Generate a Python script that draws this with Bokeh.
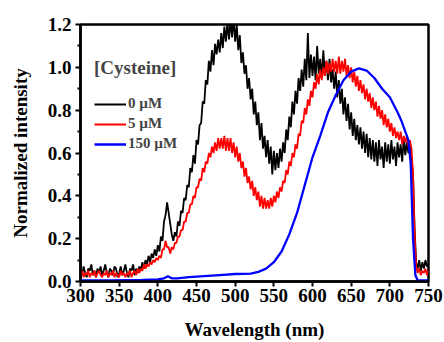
from bokeh.plotting import figure
from bokeh.models import Legend, LegendItem, FixedTicker, NumeralTickFormatter
from bokeh.embed import file_html
from bokeh.resources import INLINE

# Wavelength grid for the noisy spectra (nm)
wl = list(range(300, 751, 2))

# 0 uM cysteine
black_y = [
    0.05, 0.03, 0.07, 0.04, 0.02, 0.06, 0.05, 0.08, 0.03, 0.05,
    0.02, 0.06, 0.04, 0.07, 0.03, 0.05, 0.08, 0.04, 0.02, 0.06,
    0.05, 0.03, 0.07, 0.06, 0.02, 0.04, 0.07, 0.03, 0.05, 0.08,
    0.04, 0.02, 0.06, 0.05, 0.08, 0.03, 0.06, 0.04, 0.07, 0.05,
    0.09, 0.06, 0.10, 0.08, 0.12, 0.09, 0.13, 0.11, 0.15, 0.12,
    0.17, 0.14, 0.21, 0.19, 0.28, 0.31, 0.37, 0.32, 0.27, 0.22,
    0.19, 0.23, 0.21, 0.28, 0.26, 0.33, 0.32, 0.39, 0.38, 0.45,
    0.44, 0.53, 0.51, 0.59, 0.55, 0.66, 0.64, 0.73, 0.74, 0.84,
    0.83, 0.94, 0.92, 1.03, 0.98, 1.08, 1.01, 1.11, 1.06, 1.13,
    1.07, 1.16, 1.09, 1.19, 1.12, 1.21, 1.13, 1.22, 1.14, 1.23,
    1.12, 1.20, 1.08, 1.15, 1.02, 1.07, 0.97, 1.01, 0.90, 0.95,
    0.85, 0.90, 0.78, 0.84, 0.73, 0.79, 0.66, 0.74, 0.62, 0.68,
    0.58, 0.66, 0.55, 0.63, 0.50, 0.61, 0.52, 0.60, 0.53, 0.62,
    0.56, 0.65, 0.60, 0.71, 0.66, 0.77, 0.72, 0.84, 0.78, 0.89,
    0.83, 0.95, 0.89, 0.99, 0.91, 1.04, 0.94, 1.16, 0.95, 1.06,
    0.96, 1.05, 0.94, 1.10, 0.97, 1.04, 0.95, 1.08, 0.96, 1.03,
    0.94, 1.04, 0.93, 0.99, 0.90, 0.98, 0.86, 0.94, 0.83, 0.90,
    0.78, 0.86, 0.75, 0.83, 0.71, 0.79, 0.68, 0.76, 0.66, 0.73,
    0.64, 0.72, 0.62, 0.70, 0.60, 0.69, 0.58, 0.67, 0.57, 0.66,
    0.56, 0.65, 0.54, 0.66, 0.57, 0.63, 0.53, 0.65, 0.56, 0.64,
    0.55, 0.66, 0.57, 0.63, 0.54, 0.65, 0.58, 0.64, 0.56, 0.67,
    0.59, 0.65, 0.60, 0.63, 0.58, 0.50, 0.25, 0.09, 0.06, 0.10,
    0.05, 0.09, 0.06, 0.10, 0.07, 0.08]

# 5 uM cysteine
red_y = [
    0.03, 0.05, 0.02, 0.04, 0.03, 0.05, 0.02, 0.04, 0.03, 0.05,
    0.02, 0.04, 0.05, 0.03, 0.02, 0.04, 0.03, 0.05, 0.02, 0.04,
    0.03, 0.05, 0.02, 0.04, 0.03, 0.02, 0.05, 0.03, 0.04, 0.02,
    0.04, 0.03, 0.05, 0.02, 0.04, 0.05, 0.03, 0.06, 0.04, 0.06,
    0.05, 0.08, 0.06, 0.08, 0.07, 0.09, 0.08, 0.10, 0.09, 0.11,
    0.10, 0.12, 0.11, 0.15, 0.15, 0.19, 0.16, 0.16, 0.13, 0.16,
    0.15, 0.18, 0.18, 0.21, 0.21, 0.24, 0.24, 0.28, 0.28, 0.32,
    0.32, 0.36, 0.36, 0.40, 0.39, 0.44, 0.44, 0.48, 0.47, 0.53,
    0.51, 0.56, 0.55, 0.60, 0.58, 0.63, 0.60, 0.65, 0.61, 0.67,
    0.62, 0.67, 0.62, 0.68, 0.61, 0.67, 0.61, 0.67, 0.60, 0.65,
    0.58, 0.63, 0.56, 0.60, 0.53, 0.56, 0.49, 0.53, 0.46, 0.49,
    0.43, 0.47, 0.40, 0.44, 0.38, 0.42, 0.35, 0.40, 0.34, 0.39,
    0.34, 0.38, 0.34, 0.39, 0.35, 0.40, 0.37, 0.42, 0.39, 0.44,
    0.42, 0.47, 0.46, 0.52, 0.50, 0.56, 0.54, 0.60, 0.58, 0.64,
    0.62, 0.69, 0.68, 0.75, 0.74, 0.81, 0.78, 0.85, 0.82, 0.89,
    0.86, 0.93, 0.90, 0.97, 0.92, 0.99, 0.94, 1.00, 0.96, 1.03,
    0.97, 1.02, 0.98, 1.04, 0.98, 1.03, 0.97, 1.05, 0.97, 1.03,
    0.98, 1.04, 0.96, 1.01, 0.95, 1.00, 0.93, 0.98, 0.91, 0.96,
    0.89, 0.94, 0.88, 0.92, 0.85, 0.90, 0.84, 0.88, 0.81, 0.86,
    0.80, 0.84, 0.77, 0.82, 0.76, 0.80, 0.73, 0.78, 0.72, 0.76,
    0.70, 0.74, 0.68, 0.72, 0.67, 0.70, 0.66, 0.70, 0.64, 0.68,
    0.65, 0.68, 0.63, 0.66, 0.62, 0.50, 0.22, 0.07, 0.04, 0.06,
    0.03, 0.05, 0.04, 0.06, 0.03, 0.05]

# 150 uM cysteine (smooth)
blue_x = [300, 320, 340, 360, 380, 400, 408, 413, 418, 425, 440, 460, 480,
          500, 520, 530, 540, 550, 560, 570, 580, 590, 600, 610, 620, 630,
          640, 650, 660, 670, 680, 690, 700, 710, 715, 720, 724, 727, 730,
          733, 736, 740, 750]
blue_y = [0.005, 0.005, 0.005, 0.006, 0.007, 0.010, 0.015, 0.025, 0.015,
          0.015, 0.020, 0.025, 0.030, 0.035, 0.037, 0.045, 0.060, 0.090,
          0.140, 0.220, 0.320, 0.450, 0.580, 0.680, 0.790, 0.870, 0.940,
          0.980, 0.995, 0.985, 0.950, 0.900, 0.860, 0.790, 0.750, 0.700,
          0.660, 0.550, 0.200, 0.030, 0.005, 0.005, 0.005]

labels = ["0 \u00b5M", "5 \u00b5M", "150 \u00b5M"]
legend_title = "[Cysteine]"
x_ticks = [300, 350, 400, 450, 500, 550, 600, 650, 700, 750]
y_ticks = [0.0, 0.2, 0.4, 0.6, 0.8, 1.0, 1.2]
y_minor_ticks = [0.1, 0.3, 0.5, 0.7, 0.9, 1.1]

FONT = "Liberation Serif"

p = figure(width=444, height=342, x_range=(300, 750), y_range=(0, 1.2),
           output_backend="svg", toolbar_location=None,
           min_border_left=80, min_border_right=16,
           min_border_top=24, min_border_bottom=59)
p.xgrid.visible = False
p.ygrid.visible = False
p.outline_line_color = "black"
p.outline_line_width = 2.5
p.outline_line_alpha = 1.0

r_black = p.line(wl, black_y, line_color="black", line_width=1.8)
r_red = p.line(wl, red_y, line_color="#ff0000", line_width=1.8)
r_blue = p.line(blue_x, blue_y, line_color="#0000ff", line_width=2.3)

p.xaxis.ticker = FixedTicker(ticks=x_ticks)
p.yaxis.ticker = FixedTicker(ticks=y_ticks, minor_ticks=y_minor_ticks)
p.yaxis.formatter = NumeralTickFormatter(format="0.0")

for ax in (p.xaxis, p.yaxis):
    ax.axis_line_width = 2.5
    ax.major_tick_line_width = 2
    ax.minor_tick_line_width = 2
    ax.major_tick_out = 5
    ax.major_tick_in = 0
    ax.minor_tick_out = 3
    ax.minor_tick_in = 0
    ax.major_label_text_font = FONT
    ax.major_label_text_font_style = "bold"
    ax.major_label_text_font_size = "19px"
    ax.major_label_text_color = "black"
    ax.axis_label_text_font = FONT
    ax.axis_label_text_font_style = "bold"
    ax.axis_label_text_font_size = "19px"
    ax.axis_label_text_color = "black"

p.xaxis.axis_label = "Wavelength (nm)"
p.yaxis.axis_label = "Normalized intensity"
p.xaxis.major_label_standoff = 2
p.yaxis.major_label_standoff = 4
p.xaxis.axis_label_standoff = 14
p.yaxis.axis_label_standoff = 14

legend = Legend(items=[LegendItem(label=labels[0], renderers=[r_black]),
                       LegendItem(label=labels[1], renderers=[r_red]),
                       LegendItem(label=labels[2], renderers=[r_blue])],
                title=legend_title, location=(14, 129))
legend.title_text_font = FONT
legend.title_text_font_style = "bold"
legend.title_text_font_size = "19px"
legend.title_standoff = 16
legend.label_text_font = FONT
legend.label_text_font_style = "bold"
legend.label_text_font_size = "15px"
legend.glyph_width = 32
legend.glyph_height = 16
legend.label_standoff = 2
legend.spacing = 3
legend.padding = 0
legend.margin = 0
legend.border_line_color = None
legend.background_fill_alpha = 0
p.add_layout(legend)

open("out.html", "w").write(file_html(p, INLINE))
